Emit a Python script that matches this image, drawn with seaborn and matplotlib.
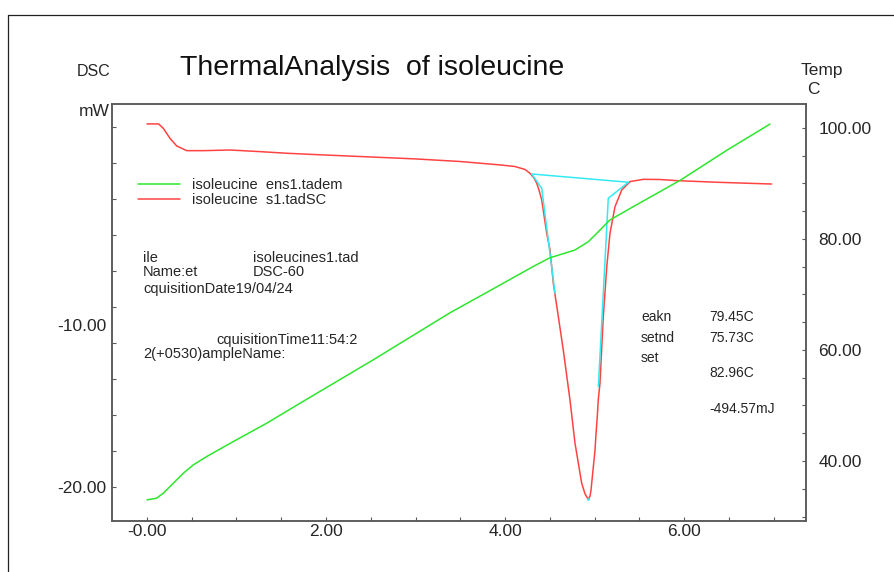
import matplotlib
matplotlib.use("Agg")
import matplotlib.pyplot as plt
from matplotlib.lines import Line2D
from matplotlib.ticker import FixedLocator, MultipleLocator
import seaborn as sns

# DSC heat-flow trace (mW) against run time (min)
dsc_time = [0.000, 0.130, 0.182, 0.257, 0.332, 0.444, 0.629, 0.927, 1.263, 1.561,
            1.914, 2.500, 3.000, 3.500, 3.944, 4.112, 4.223, 4.279, 4.324, 4.354,
            4.380, 4.410, 4.466, 4.503, 4.540, 4.596, 4.651, 4.726, 4.782, 4.857,
            4.894, 4.931, 4.950, 4.961, 4.987, 5.006, 5.017, 5.031, 5.042, 5.061,
            5.098, 5.137, 5.173, 5.229, 5.304, 5.397, 5.545, 5.732, 5.918, 6.365,
            6.980]
dsc_signal = [2.41, 2.41, 2.14, 1.52, 1.05, 0.76, 0.76, 0.80, 0.70, 0.60,
              0.51, 0.37, 0.25, 0.09, -0.12, -0.22, -0.40, -0.64, -0.93, -1.25,
              -1.67, -2.28, -4.34, -5.37, -7.43, -9.49, -11.54, -14.63, -17.30, -19.77,
              -20.43, -20.77, -20.56, -20.19, -18.75, -17.72, -16.69, -15.66, -14.63, -13.60,
              -9.49, -6.40, -4.34, -2.70, -1.67, -1.15, -1.01, -1.02, -1.09, -1.19,
              -1.30]

# sample temperature (C) against run time (min)
temp_time = [0.000, 0.108, 0.182, 0.294, 0.406, 0.517, 0.667, 0.964, 1.337, 1.709,
             2.525, 3.385, 3.944, 4.310, 4.500, 4.780, 4.930, 5.030, 5.170, 5.430,
             5.960, 6.480, 6.960]
temp_value = [33.0, 33.3, 34.2, 36.0, 37.8, 39.3, 40.8, 43.5, 46.8, 50.4,
              58.2, 66.7, 71.7, 75.0, 76.6, 78.0, 79.5, 81.1, 83.4, 85.8,
              90.6, 96.0, 100.7]

# tangent and baseline construction used for the peak evaluation
base_time = [4.559, 4.410, 4.298, 5.378, 5.154, 5.043]
base_signal = [-8.04, -1.56, -0.68, -1.19, -2.18, -13.81]
peak_time = [4.931]
peak_signal = [-20.77]

x_ticks = [0, 2, 4, 6]
x_tick_labels = ["-0.00", "2.00", "4.00", "6.00"]
dsc_ticks = [-20, -10]
dsc_tick_labels = ["-20.00", "-10.00"]
dsc_minor_ticks = [-20 + k * 20 / 9 for k in range(11)]
temp_ticks = [40, 60, 80, 100]
temp_tick_labels = ["40.00", "60.00", "80.00", "100.00"]

series_labels = ["isoleucine  ens1.tadem", "isoleucine  s1.tadSC"]

GREEN = "#2ee62e"
RED = "#ff4343"
CYAN = "#33eaf2"
SPINE = "#5a5a5a"

sns.set_style("white")
plt.rcParams["font.family"] = ["Liberation Sans", "DejaVu Sans"]

W, H = 894, 572
fig = plt.figure(figsize=(W / 100, H / 100), dpi=100)
fig.patch.set_facecolor("white")


def fx(px):
    return px / W


def fy(py):
    return 1 - py / H


ax = fig.add_axes([fx(112), fy(521), (806 - 112) / W, (521 - 104) / H])
ax2 = ax.twinx()

sns.lineplot(x=dsc_time, y=dsc_signal, ax=ax, color=RED, lw=1.1,
             estimator=None, sort=False)
sns.lineplot(x=base_time, y=base_signal, ax=ax, color=CYAN, lw=1.1,
             estimator=None, sort=False)
sns.scatterplot(x=peak_time, y=peak_signal, ax=ax, color=CYAN, s=4,
                linewidth=0, zorder=5)
sns.lineplot(x=temp_time, y=temp_value, ax=ax2, color=GREEN, lw=1.1,
             estimator=None, sort=False)

ax.set_xlim(-0.391, 7.363)
ax.set_ylim(-22.10, 3.64)
ax2.set_ylim(29.19, 104.32)

for a in (ax, ax2):
    a.set_xlabel("")
    a.set_ylabel("")
    for s in a.spines.values():
        s.set_visible(True)
        s.set_color(SPINE)
        s.set_linewidth(1.1)

# x axis
ax.xaxis.set_major_locator(FixedLocator(x_ticks))
ax.set_xticklabels(x_tick_labels)
ax.xaxis.set_minor_locator(MultipleLocator(0.5))
ax.tick_params(axis="x", which="both", direction="in", length=3, width=0.8,
               color=SPINE, bottom=True, top=False, labelsize=12.5, pad=2)

# left DSC axis: labels without their own tick, evenly spaced minor ticks
ax.yaxis.remove_overlapping_locs = False
ax.yaxis.set_major_locator(FixedLocator(dsc_ticks))
ax.set_yticklabels(dsc_tick_labels)
ax.yaxis.set_minor_locator(FixedLocator(dsc_minor_ticks))
ax.tick_params(axis="y", which="major", direction="in", length=0,
               left=True, right=False, labelsize=12.5, pad=4)
ax.tick_params(axis="y", which="minor", direction="in", length=3, width=0.8,
               color=SPINE, left=True, right=False)

# right temperature axis
ax2.yaxis.set_major_locator(FixedLocator(temp_ticks))
ax2.set_yticklabels(temp_tick_labels)
ax2.yaxis.set_minor_locator(MultipleLocator(5))
ax2.tick_params(axis="y", which="both", direction="in", length=3, width=0.8,
                color=SPINE, right=True, left=False, labelsize=12.5, pad=9)

# legend
handles = [ax2.lines[0], ax.lines[0]]
leg = ax.legend(handles, series_labels, loc="upper left",
                bbox_to_anchor=(fx(138), fy(178)), bbox_transform=fig.transFigure,
                frameon=False, fontsize=10.5, handlelength=2.9, handletextpad=0.8,
                labelspacing=0.06, borderpad=0, borderaxespad=0)

# header texts
fig.text(fx(180), fy(68), "ThermalAnalysis  of isoleucine", fontsize=20.5,
         va="center", ha="left", color="#111111")
fig.text(fx(77), fy(71), "DSC", fontsize=11.5, va="center", ha="left")
fig.text(fx(110), fy(112), "mW", fontsize=12.5, va="center", ha="right")
fig.text(fx(801), fy(71), "Temp", fontsize=12.5, va="center", ha="left")
fig.text(fx(807), fy(89), "C", fontsize=12.5, va="center", ha="left")

# file information block
info = [
    (143, 258, "ile"), (253, 258, "isoleucines1.tad"),
    (143, 272, "Name:et"), (253, 272, "DSC-60"),
    (143, 289, "cquisitionDate19/04/24"),
    (216, 340, "cquisitionTime11:54:2"),
    (143, 354, "2(+0530)ampleName:"),
]
for px, py, s in info:
    fig.text(fx(px), fy(py), s, fontsize=10.5, va="center", ha="left")

# peak evaluation results
results = [
    (641, 317, "eakn"), (709, 317, "79.45C"),
    (641, 338, "setnd"), (709, 338, "75.73C"),
    (641, 358, "set"), (709, 373, "82.96C"),
    (709, 409, "-494.57mJ"),
]
for px, py, s in results:
    fig.text(fx(px), fy(py), s, fontsize=10, va="center", ha="left")

# page frame
fig.add_artist(Line2D([fx(8), fx(8)], [0, fy(15)], color="#222222", lw=0.9))
fig.add_artist(Line2D([fx(8), 1], [fy(15), fy(15)], color="#222222", lw=0.9))

fig.savefig("out.png", dpi=100)
